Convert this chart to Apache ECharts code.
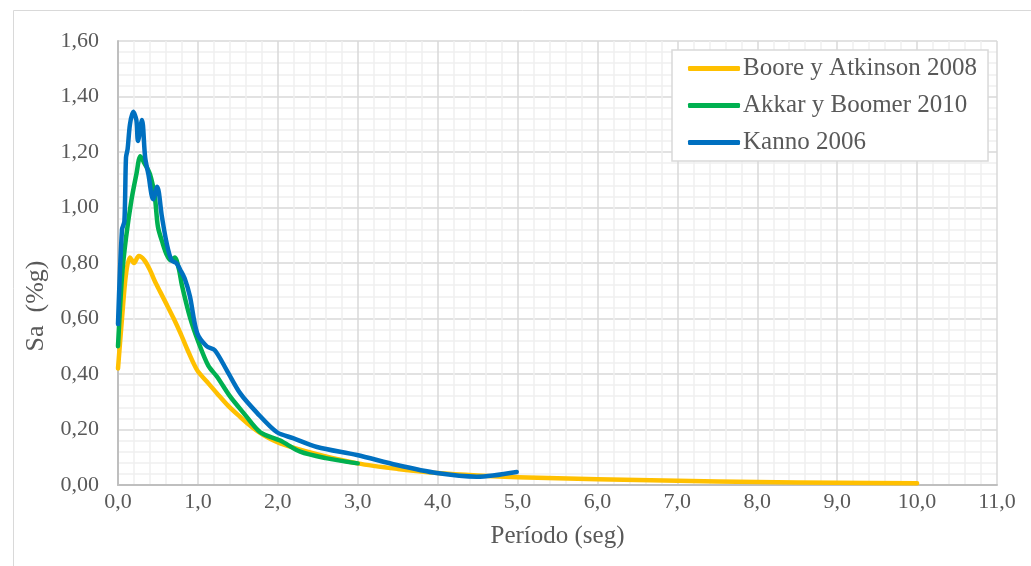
<!DOCTYPE html>
<html><head><meta charset="utf-8">
<script src="https://cdn.jsdelivr.net/npm/echarts@6/dist/echarts.min.js"></script>
<style>html,body{margin:0;padding:0;background:#fff}#c{width:1031px;height:566px}</style>
</head><body><div id="c"></div>
<script>
const booreX = [0, 0.05, 0.1, 0.15, 0.2, 0.26, 0.33, 0.4, 0.46, 0.53, 0.61, 0.7, 0.78, 0.88, 0.99, 1.12, 1.24, 1.38, 1.53, 1.67, 1.82, 2.03, 2.5, 3.0, 3.5, 4.0, 4.5, 5.0, 6.0, 7.0, 8.0, 9.0, 10.0];
const booreY = [0.42, 0.6, 0.76, 0.82, 0.80, 0.825, 0.81, 0.775, 0.735, 0.695, 0.65, 0.598, 0.548, 0.48, 0.414, 0.37, 0.33, 0.285, 0.245, 0.21, 0.18, 0.15, 0.11, 0.078, 0.058, 0.043, 0.034, 0.028, 0.021, 0.015, 0.011, 0.008, 0.006];

const akkarX = [0, 0.05, 0.1, 0.17, 0.23, 0.28, 0.33, 0.4, 0.46, 0.5, 0.56, 0.61, 0.66, 0.71, 0.76, 0.8, 0.9, 1.0, 1.13, 1.24, 1.4, 1.57, 1.78, 2.03, 2.28, 2.6, 3.0];
const akkarY = [0.50, 0.75, 0.89, 1.03, 1.12, 1.185, 1.16, 1.12, 1.04, 0.93, 0.87, 0.83, 0.81, 0.82, 0.78, 0.72, 0.605, 0.52, 0.43, 0.39, 0.32, 0.26, 0.19, 0.16, 0.12, 0.097, 0.078];

const kannoX = [0, 0.05, 0.08, 0.1, 0.12, 0.15, 0.19, 0.23, 0.25, 0.3, 0.34, 0.38, 0.44, 0.49, 0.55, 0.61, 0.67, 0.73, 0.78, 0.84, 0.9, 0.99, 1.11, 1.21, 1.36, 1.53, 1.74, 1.99, 2.19, 2.49, 2.99, 3.49, 3.99, 4.49, 4.99];
const kannoY = [0.58, 0.92, 0.95, 1.18, 1.21, 1.30, 1.345, 1.315, 1.24, 1.315, 1.18, 1.12, 1.03, 1.075, 0.966, 0.87, 0.81, 0.8, 0.775, 0.74, 0.68, 0.548, 0.50, 0.486, 0.414, 0.33, 0.26, 0.19, 0.169, 0.137, 0.108, 0.072, 0.043, 0.03, 0.047];

const seriesNames = ['Boore y Atkinson 2008', 'Akkar y Boomer 2010', 'Kanno 2006'];
const seriesColors = ['#FFC000', '#00B050', '#0070C0'];

const xTickMin = 0, xTickMax = 11, xTickStep = 1;
const yTickMin = 0, yTickMax = 1.6, yTickStep = 0.2;

function pairs(xs, ys) { return xs.map((x, i) => [x, ys[i]]); }
const allData = [pairs(booreX, booreY), pairs(akkarX, akkarY), pairs(kannoX, kannoY)];

const FONT = '"Liberation Serif", "Times New Roman", serif';
const TXT = '#595959';

const chart = echarts.init(document.getElementById('c'), null, {renderer: 'canvas'});
chart.setOption({
  animation: false,
  backgroundColor: '#fff',
  graphic: [{
    type: 'rect', left: 11, top: 8, shape: {x: 0, y: 0, width: 1030, height: 570},
    style: {fill: 'none', stroke: '#d9d9d9', lineWidth: 1}, silent: true, z: -10
  }],
  grid: {left: 118, right: 34, top: 41, bottom: 81},
  legend: {
    orient: 'vertical', left: 672, top: 50,
    backgroundColor: '#fff', borderColor: '#d9d9d9', borderWidth: 1.5,
    padding: [6, 11, 6, 16],
    itemWidth: 52, itemHeight: 5, itemGap: 12, icon: 'roundRect',
    textStyle: {fontFamily: FONT, fontSize: 25, color: TXT, padding: [0, 0, 0, -2]},
    data: seriesNames
  },
  xAxis: {
    type: 'value', min: xTickMin, max: xTickMax, interval: xTickStep,
    name: 'Período (seg)', nameLocation: 'middle', nameGap: 39,
    nameTextStyle: {fontFamily: FONT, fontSize: 25, color: TXT},
    axisLine: {show: true, lineStyle: {color: '#bfbfbf', width: 2}},
    axisTick: {show: false},
    axisLabel: {fontFamily: FONT, fontSize: 22, color: TXT, margin: 6,
      formatter: v => v.toFixed(1).replace('.', ',')},
    splitLine: {show: true, lineStyle: {color: '#d9d9d9', width: 1.5}},
    minorTick: {show: false, splitNumber: 5},
    minorSplitLine: {show: true, lineStyle: {color: '#f0f0f0', width: 1.5}}
  },
  yAxis: {
    type: 'value', min: yTickMin, max: yTickMax, interval: yTickStep,
    name: 'Sa  (%g)', nameLocation: 'middle', nameGap: 61, nameRotate: 90,
    nameTextStyle: {fontFamily: FONT, fontSize: 26, color: TXT, padding: [0, 86, 0, 0]},
    axisLine: {show: true, lineStyle: {color: '#bfbfbf', width: 2}},
    axisTick: {show: false},
    axisLabel: {fontFamily: FONT, fontSize: 22, color: TXT, margin: 19,
      formatter: v => v.toFixed(2).replace('.', ',')},
    splitLine: {show: true, lineStyle: {color: '#d9d9d9', width: 1.5}},
    minorTick: {show: false, splitNumber: 5},
    minorSplitLine: {show: true, lineStyle: {color: '#f0f0f0', width: 1.5}}
  },
  series: seriesNames.map((n, i) => ({
    name: n, type: 'line', data: allData[i], smooth: 0.3, showSymbol: false,
    color: seriesColors[i],
    lineStyle: {width: 4.5, color: seriesColors[i], cap: 'round', join: 'round'},
    z: 2 + i
  }))
});
</script></body></html>
